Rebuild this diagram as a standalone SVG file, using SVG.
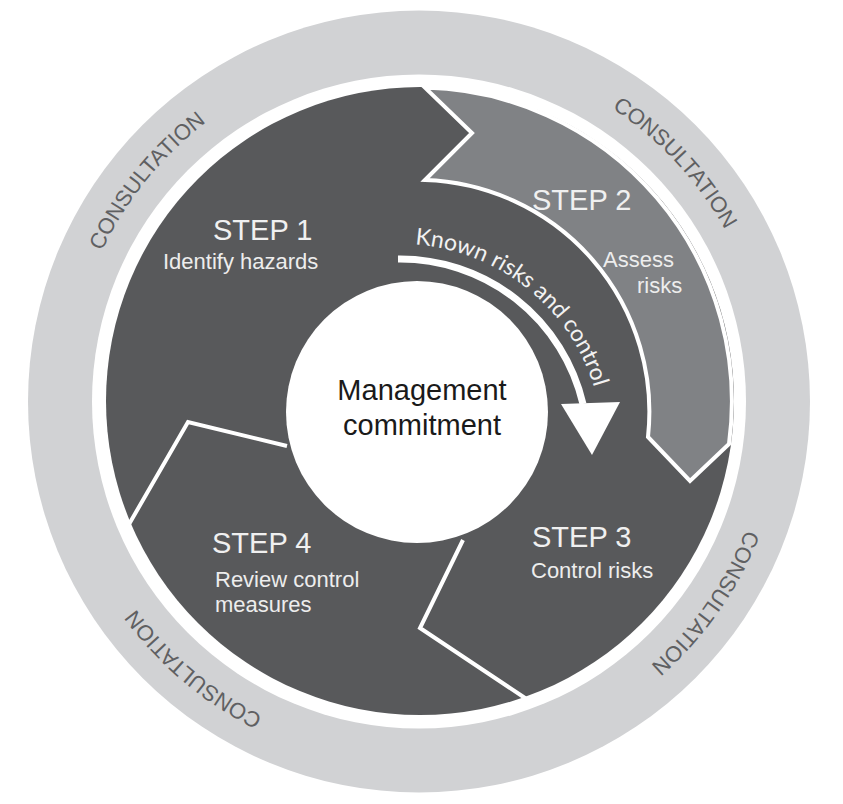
<svg xmlns="http://www.w3.org/2000/svg" width="843" height="804" viewBox="0 0 843 804">
  <style>
    .step { font-family: "Liberation Sans", Arial, sans-serif; font-size: 29px; fill: #f0f0f0; }
    .sub { font-family: "Liberation Sans", Arial, sans-serif; font-size: 22px; fill: #ededed; }
    .cons { font-family: "Liberation Sans", Arial, sans-serif; font-size: 22px; fill: #5f6062; }
    .sep { fill: none; stroke: #ffffff; stroke-width: 4; stroke-linejoin: miter; }
  </style>
  <defs>
    <path id="ringPath" d="M68,401.5 A351,351 0 1 1 770,401.5 A351,351 0 1 1 68,401.5"/>
    <path id="knownPath" d="M415,244.5 A203,203 0 0 1 600,411.7"/>
  </defs>
  <rect x="0" y="0" width="843" height="804" fill="#ffffff"/>

  <g id="consultation-ring">
    <circle cx="419" cy="401.5" r="391" fill="#d1d2d4"/>
    <circle cx="419" cy="401.5" r="327" fill="#ffffff"/>
    <text class="cons"><textPath href="#ringPath" startOffset="239" text-anchor="middle">CONSULTATION</textPath></text>
    <text class="cons"><textPath href="#ringPath" startOffset="839" text-anchor="middle">CONSULTATION</textPath></text>
    <text class="cons"><textPath href="#ringPath" startOffset="1317" text-anchor="middle">CONSULTATION</textPath></text>
    <text class="cons"><textPath href="#ringPath" startOffset="1899" text-anchor="middle">CONSULTATION</textPath></text>
  </g>

  <g id="disk">
    <circle cx="420" cy="401" r="314" fill="#58595b"/>
  </g>

  <g id="step2">
    <path d="M425,87.6 A314,314 0 0 1 729,444 L690,481 L648,437 A232,232 0 0 0 425,180 L472,133 Z" fill="#808285" stroke="#ffffff" stroke-width="4" stroke-linejoin="miter"/>
    <text class="step" x="532" y="210">STEP 2</text>
    <text class="sub" x="603" y="267">Assess</text>
    <text class="sub" x="637" y="293">risks</text>
  </g>

  <g id="step1">
    <text class="step" x="213" y="240">STEP 1</text>
    <text class="sub" x="163" y="269">Identify hazards</text>
  </g>

  <g id="step3">
    <polyline class="sep" points="463,540 420,628 528,700"/>
    <text class="step" x="532" y="547">STEP 3</text>
    <text class="sub" x="531" y="578">Control risks</text>
  </g>

  <g id="step4">
    <polyline class="sep" points="287,446 188,422 128,526"/>
    <text class="step" x="212" y="553">STEP 4</text>
    <text class="sub" x="215" y="587">Review control</text>
    <text class="sub" x="215" y="612">measures</text>
  </g>

  <g id="management">
    <circle cx="417" cy="412" r="131" fill="#ffffff"/>
    <text x="422" y="400" text-anchor="middle" font-family="Liberation Sans, Arial, sans-serif" font-size="29" fill="#1a1a1a">Management</text>
    <text x="422" y="435" text-anchor="middle" font-family="Liberation Sans, Arial, sans-serif" font-size="29" fill="#1a1a1a">commitment</text>
  </g>

  <g id="connectors">
    <path d="M398,259 A188,188 0 0 1 583,404" fill="none" stroke="#ffffff" stroke-width="7"/>
    <polygon points="561,404 620,402 592,455" fill="#ffffff"/>
    <text font-family="Lato, Open Sans, sans-serif" font-size="23" fill="#f2f2f2"><textPath href="#knownPath">Known risks and control</textPath></text>
  </g>
</svg>
